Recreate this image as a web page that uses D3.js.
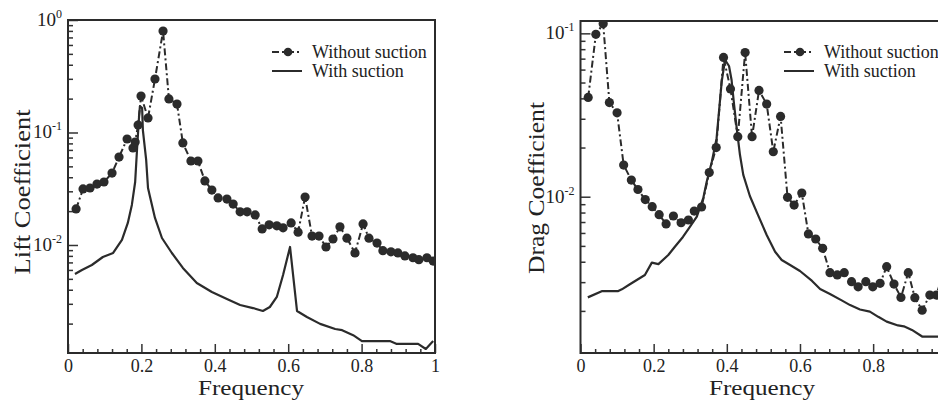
<!DOCTYPE html>
<html>
<head>
<meta charset="utf-8">
<script src="https://cdn.jsdelivr.net/npm/d3@7"></script>
<style>
  body { margin: 0; background: #fff; }
  svg { display: block; }
  text { font-family: "Liberation Serif", "Times New Roman", serif; fill: #222; }
  .tick line { stroke: #333; stroke-width: 1.5; }
  .tick text { font-size: 18px; }
</style>
</head>
<body>
<svg id="chart" width="938" height="403"></svg>
<script>
(function (d3) {
  "use strict";

  /***** Data *****/
  var liftFreqWithout = [0.022,0.041,0.060,0.079,0.098,0.120,0.139,0.161,0.177,0.183,
    0.191,0.199,0.218,0.237,0.259,0.275,0.297,0.313,0.335,0.354,
    0.373,0.392,0.409,0.433,0.450,0.469,0.488,0.510,0.529,0.548,
    0.569,0.586,0.608,0.627,0.646,0.665,0.684,0.703,0.722,0.741,
    0.760,0.782,0.804,0.820,0.842,0.858,0.880,0.899,0.918,0.940,
    0.956,0.978,0.995];
  var liftWithout = [0.0209,0.0315,0.0321,0.0348,0.0363,0.0436,0.0605,0.0875,0.0728,0.0823,
    0.1166,0.211,0.1346,0.299,0.798,0.1986,0.179,0.0807,0.0558,0.0558,
    0.0371,0.0308,0.0262,0.0256,0.0231,0.0197,0.0197,0.0185,0.0139,0.0151,
    0.0148,0.0142,0.0157,0.0130,0.0267,0.0120,0.0120,0.0096,0.0113,0.0145,
    0.0115,0.0085,0.0154,0.0115,0.0104,0.0089,0.0087,0.0085,0.0080,0.0077,
    0.0074,0.0077,0.0072];

  var liftFreqWith = [0.019,0.038,0.065,0.095,0.123,0.147,0.163,0.174,0.183,0.188,
    0.193,0.196,0.202,0.204,0.213,0.218,0.223,0.237,0.256,0.283,
    0.313,0.351,0.392,0.433,0.469,0.504,0.531,0.550,0.569,0.586,
    0.605,0.624,0.651,0.687,0.728,0.747,0.777,0.801,0.877,0.896,
    0.954,0.975,0.995];
  var liftWith = [0.00552,0.0060,0.00664,0.00782,0.00849,0.01108,0.0157,0.0227,0.0363,0.0699,
    0.129,0.172,0.165,0.105,0.057,0.0321,0.0273,0.0174,0.01154,0.00849,
    0.00625,0.00459,0.00382,0.00331,0.00293,0.00275,0.00259,0.00281,0.00345,0.00541,
    0.0096,0.00259,0.00229,0.00199,0.00179,0.00175,0.00158,0.00140,0.00140,0.00132,
    0.00132,0.00119,0.00140];

  var dragFreqWithout = [0.021,0.042,0.062,0.079,0.100,0.118,0.139,0.157,0.177,0.196,
    0.215,0.234,0.254,0.275,0.295,0.311,0.331,0.352,0.371,0.391,
    0.410,0.430,0.450,0.469,0.488,0.509,0.527,0.547,0.566,0.584,
    0.605,0.623,0.643,0.662,0.682,0.702,0.721,0.741,0.759,0.780,
    0.799,0.819,0.837,0.857,0.876,0.896,0.914,0.934,0.955,0.973,
    0.993];
  var dragWithout = [0.0405,0.0986,0.1145,0.0377,0.0326,0.01563,0.01265,0.01107,0.0096,0.00869,
    0.00776,0.00681,0.00762,0.00693,0.0072,0.00817,0.00865,0.01406,0.0200,0.0712,
    0.0457,0.0233,0.0763,0.0233,0.0447,0.0369,0.01884,0.0310,0.00991,0.00889,
    0.01054,0.00592,0.00551,0.00483,0.00343,0.00332,0.00343,0.00302,0.00281,0.00302,
    0.00281,0.00295,0.00373,0.00292,0.00242,0.00343,0.00241,0.00202,0.0025,0.0025,
    0.0035];

  var dragFreqWith = [0.020,0.058,0.102,0.113,0.135,0.176,0.195,0.213,0.240,0.258,
    0.280,0.299,0.318,0.336,0.345,0.359,0.372,0.386,0.395,0.406,
    0.413,0.420,0.427,0.436,0.445,0.463,0.483,0.509,0.532,0.550,
    0.573,0.600,0.633,0.655,0.682,0.714,0.737,0.764,0.791,0.814,
    0.837,0.868,0.884,0.906,0.935,0.974,1.0];
  var dragWith = [0.00242,0.00264,0.00264,0.00271,0.00291,0.00332,0.00395,0.00387,0.0044,0.00494,
    0.00567,0.00653,0.00755,0.00989,0.01236,0.01637,0.02275,0.0506,0.0687,0.0631,
    0.0518,0.0364,0.0263,0.0180,0.0136,0.0101,0.00794,0.00583,0.0046,0.0041,
    0.00382,0.00351,0.00305,0.00272,0.00254,0.00232,0.00217,0.00204,0.00198,0.00184,
    0.00172,0.00163,0.00161,0.00153,0.00139,0.00139,0.00139];

  var xTicks = [0, 0.2, 0.4, 0.6, 0.8, 1];
  var xMinorTicks = [0.04,0.08,0.12,0.16,0.24,0.28,0.32,0.36,0.44,0.48,0.52,0.56,0.64,0.68,0.72,0.76,0.84,0.88,0.92,0.96];
  var legendLabels = ["Without suction", "With suction"];

  /***** Configuration *****/
  var ink = "#2b2b2b";
  var pageWidth = 938;
  var svg = d3.select("#chart");

  var panels = [
    { left: 68, right: 435, top: 20, bottom: 353, yDomain: [0.001096, 1],
      yTitle: "Lift Coefficient", titleX: 30, titleY: 192, titleLen: 165,
      xTitleX: 251, legendX: 272,
      fa: liftFreqWithout, va: liftWithout, fb: liftFreqWith, vb: liftWith },
    { left: 580.5, right: 946.3, top: 21, bottom: 353, yDomain: [0.001105, 0.119],
      yTitle: "Drag Coefficient", titleX: 544, titleY: 188, titleLen: 172,
      xTitleX: 762, legendX: 784,
      fa: dragFreqWithout, va: dragWithout, fb: dragFreqWith, vb: dragWith }
  ];

  panels.forEach(drawPanel);

  function drawPanel(p) {
    var x = d3.scaleLinear().domain([0, 1]).range([p.left, p.right]);
    var y = d3.scaleLog().domain(p.yDomain).range([p.bottom, p.top]);
    var g = svg.append("g");

    var clipId = "clip" + Math.round(p.left);
    g.append("clipPath").attr("id", clipId).append("rect")
      .attr("x", p.left).attr("y", p.top)
      .attr("width", p.right - p.left).attr("height", p.bottom - p.top);

    // log ticks: decades plus 2..9 minors
    var lo = Math.floor(Math.log10(p.yDomain[0])), hi = Math.ceil(Math.log10(p.yDomain[1]));
    var majors = [], minors = [];
    for (var k = lo; k <= hi; k++) {
      var base = Math.pow(10, k);
      if (base >= p.yDomain[0] * 0.999 && base <= p.yDomain[1] * 1.001) majors.push(base);
      for (var m = 2; m <= 9; m++) {
        var v = m * base;
        if (v > p.yDomain[0] && v < p.yDomain[1]) minors.push(v);
      }
    }

    g.append("g").attr("transform", "translate(" + p.left + ",0)")
      .call(d3.axisLeft(y).tickValues(minors).tickSize(-5).tickFormat(""))
      .call(function (s) { s.select(".domain").remove(); });
    g.append("g").attr("transform", "translate(" + p.left + ",0)")
      .call(d3.axisLeft(y).tickValues(majors).tickSize(-10).tickFormat(""))
      .call(function (s) { s.select(".domain").remove(); });

    // y labels 10^k
    majors.forEach(function (v) {
      var e = Math.round(Math.log10(v));
      var t = g.append("text")
        .attr("x", p.left - 6).attr("y", y(v) + 6)
        .attr("text-anchor", "end")
        .style("font-size", "19px");
      t.append("tspan").text("10");
      t.append("tspan").attr("dy", -8).style("font-size", "12px").text(String(e));
    });

    // x axis (labels only where they fall inside the page)
    var shown = xTicks.filter(function (v) { return x(v) + 6 < pageWidth; });
    g.append("g").attr("transform", "translate(0," + p.bottom + ")")
      .call(d3.axisBottom(x).tickValues(xMinorTicks).tickSize(-4).tickFormat(""))
      .call(function (s) { s.select(".domain").remove(); });
    g.append("g").attr("transform", "translate(0," + p.bottom + ")")
      .call(d3.axisBottom(x).tickValues(shown).tickSize(-9).tickFormat(d3.format("~g")))
      .call(function (s) {
        s.select(".domain").remove();
        s.selectAll("text").attr("y", 6).attr("dy", "0.71em").style("fill", "#222");
      });

    // frame
    g.append("rect")
      .attr("x", p.left).attr("y", p.top)
      .attr("width", p.right - p.left).attr("height", p.bottom - p.top)
      .attr("fill", "none").attr("stroke", ink).attr("stroke-width", 2);

    // titles
    g.append("text")
      .attr("transform", "translate(" + p.titleX + "," + p.titleY + ") rotate(-90)")
      .attr("text-anchor", "middle")
      .attr("textLength", p.titleLen).attr("lengthAdjust", "spacingAndGlyphs")
      .style("font-size", "24px").text(p.yTitle);
    g.append("text")
      .attr("x", p.xTitleX).attr("y", 395)
      .attr("text-anchor", "middle")
      .attr("textLength", 106).attr("lengthAdjust", "spacingAndGlyphs")
      .style("font-size", "20px").text("Frequency");

    var line = d3.line()
      .x(function (d) { return x(d[0]); })
      .y(function (d) { return y(d[1]); });

    var ptsA = d3.zip(p.fa, p.va);
    var ptsB = d3.zip(p.fb, p.vb);
    var plot = g.append("g").attr("clip-path", "url(#" + clipId + ")");

    plot.append("path").datum(ptsB).attr("d", line)
      .attr("fill", "none").attr("stroke", ink).attr("stroke-width", 2.2)
      .attr("stroke-linejoin", "round");
    plot.append("path").datum(ptsA).attr("d", line)
      .attr("fill", "none").attr("stroke", ink).attr("stroke-width", 2)
      .attr("stroke-dasharray", "7,3,2,3");
    plot.selectAll("circle").data(ptsA).enter().append("circle")
      .attr("cx", function (d) { return x(d[0]); })
      .attr("cy", function (d) { return y(d[1]); })
      .attr("r", 4.6).attr("fill", ink);

    // legend
    var lg = g.append("g").attr("transform", "translate(" + p.legendX + ",0)");
    lg.append("line").attr("x1", 0).attr("x2", 28).attr("y1", 52).attr("y2", 52)
      .attr("stroke", ink).attr("stroke-width", 2).attr("stroke-dasharray", "7,3,2,3");
    lg.append("circle").attr("cx", 16).attr("cy", 52).attr("r", 4.3).attr("fill", ink);
    lg.append("line").attr("x1", 0).attr("x2", 30).attr("y1", 71).attr("y2", 71)
      .attr("stroke", ink).attr("stroke-width", 2);
    lg.selectAll("text.leg").data(legendLabels).enter().append("text")
      .attr("class", "leg")
      .attr("x", 40).attr("y", function (d, i) { return 58 + i * 19; })
      .style("font-size", "18px").text(function (d) { return d; });
  }
})(d3);
</script>
</body>
</html>
